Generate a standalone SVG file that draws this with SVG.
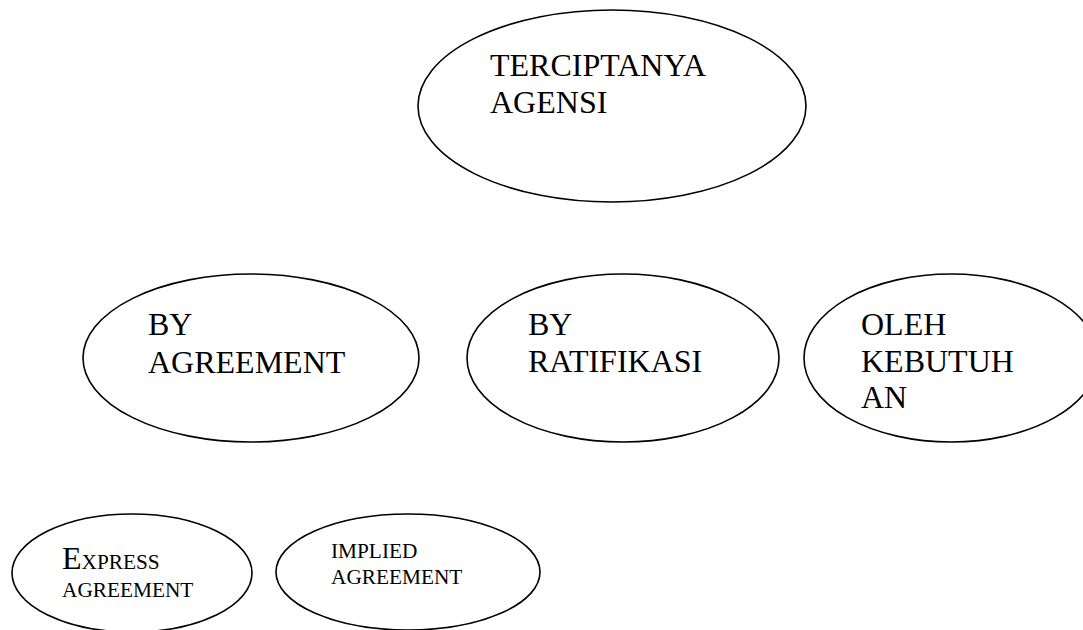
<svg xmlns="http://www.w3.org/2000/svg" width="1083" height="630" viewBox="0 0 1083 630">
<style>
.n ellipse{fill:#fff;stroke:#000;stroke-width:1.6}
.t{font-family:"Liberation Serif","Times New Roman",serif;fill:#000;font-size:32px}
.s{font-family:"Liberation Serif","Times New Roman",serif;fill:#000;font-size:21.3px}
</style>
<rect width="1083" height="630" fill="#fff"/>
<g id="connectors"></g>
<g id="n-terciptanya" class="n">
<ellipse cx="612" cy="106" rx="194" ry="96"/>
<text class="t" x="490" y="76">TERCIPTANYA</text>
<text class="t" x="490" y="113">AGENSI</text>
</g>
<g id="n-agreement" class="n">
<ellipse cx="251" cy="358" rx="168" ry="84"/>
<text class="t" x="148" y="335">BY</text>
<text class="t" x="148" y="373">AGREEMENT</text>
</g>
<g id="n-ratifikasi" class="n">
<ellipse cx="623" cy="358" rx="156" ry="84"/>
<text class="t" x="528" y="335">BY</text>
<text class="t" x="528" y="372">RATIFIKASI</text>
</g>
<g id="n-kebutuhan" class="n">
<ellipse cx="951" cy="358" rx="147" ry="84"/>
<text class="t" x="861" y="335">OLEH</text>
<text class="t" x="861" y="372">KEBUTUH</text>
<text class="t" x="861" y="408">AN</text>
</g>
<g id="n-express" class="n">
<ellipse cx="132" cy="573" rx="120" ry="59"/>
<text x="62" y="569"><tspan class="t" font-size="30">E</tspan><tspan class="s">XPRESS</tspan></text>
<text class="s" x="62" y="597">AGREEMENT</text>
</g>
<g id="n-implied" class="n">
<ellipse cx="408" cy="572" rx="132" ry="58"/>
<text class="s" x="331" y="558">IMPLIED</text>
<text class="s" x="331" y="584">AGREEMENT</text>
</g>
</svg>
